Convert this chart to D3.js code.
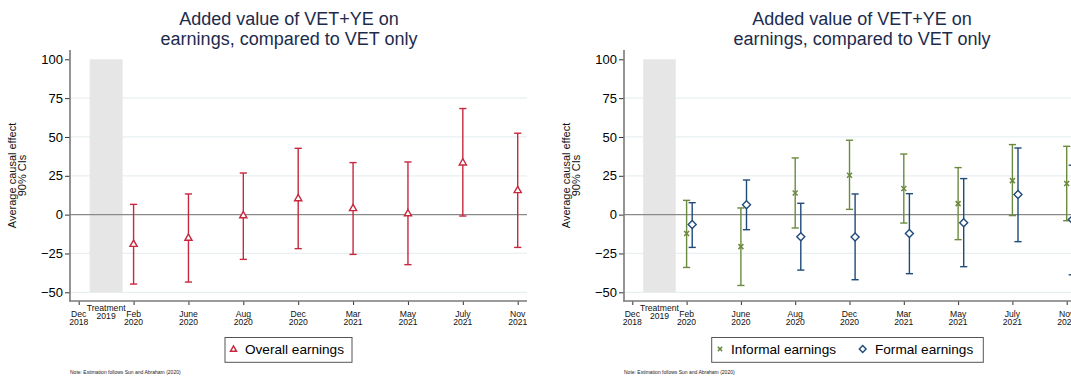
<!DOCTYPE html>
<html><head><meta charset="utf-8">
<script src="https://cdn.jsdelivr.net/npm/d3@7"></script>
<style>body{margin:0;background:#fff;}svg{display:block;font-family:"Liberation Sans",Arial,Helvetica,sans-serif;}</style>
</head><body>
<svg id="c" width="1071" height="379"></svg>
<script>
// ---- data ----
const periods = ["Dec 2018","Feb 2020","June 2020","Aug 2020","Dec 2020","Mar 2021","May 2021","July 2021","Nov 2021"];
const yTicks = [100,75,50,25,0,-25,-50];
const titleLines = ["Added value of VET+YE on","earnings, compared to VET only"];
const yTitle = ["Average causal effect","90% CIs"];
const note = "Note: Estimation follows Sun and Abraham (2020)";
// overall earnings (periods 1..8)
const overallEst = [-18.7,-14.8,-0.3,10.7,4.3,1.0,33.7,15.9];
const overallLo  = [-44.7,-43.4,-28.8,-21.9,-25.6,-32.2,-0.9,-21.1];
const overallHi  = [6.6,13.3,26.8,42.7,33.5,33.9,68.3,52.4];
// informal earnings
const informalEst = [-12.2,-20.6,13.9,25.3,16.8,7.1,21.9,20.0];
const informalLo  = [-34.0,-45.6,-8.6,3.4,-5.4,-16.1,-0.6,-3.9];
const informalHi  = [9.2,4.3,36.5,47.9,39.0,30.3,45.1,44.0];
// formal earnings
const formalEst = [-6.4,6.4,-14.2,-14.4,-12.2,-5.2,12.9,-3.2];
const formalLo  = [-21.1,-9.7,-35.7,-41.9,-38.0,-33.5,-17.4,-38.7];
const formalHi  = [7.7,22.3,7.3,13.3,13.5,23.2,42.9,31.8];

const svg = d3.select("#c");
const RED="#c8283e", GREEN="#6b8a3f", NAVY="#1f4a7a";

function series(name, est, lo, hi, color, shape, offset){
  return {name, color, shape, offset, rows: est.map((e,i)=>({i:i+1, e, lo:lo[i], hi:hi[i]}))};
}

function panel(cfg){
  const g = svg.append("g");
  const y = d3.scaleLinear().domain([-50,100]).range([292.3,59.3]);
  const x = d3.scaleLinear().domain([0,8]).range(cfg.xr);
  const clipId = "clip"+cfg.id;
  svg.append("defs").append("clipPath").attr("id",clipId).append("rect")
    .attr("x",0).attr("y",0).attr("width",1071).attr("height",379);
  // title
  g.append("text").attr("x",cfg.tc).attr("y",25.3).attr("text-anchor","middle")
    .attr("font-size",18).attr("fill","#1c2b4c").text(titleLines[0]);
  g.append("text").attr("x",cfg.tc).attr("y",44.6).attr("text-anchor","middle")
    .attr("font-size",18).attr("fill","#1c2b4c").text(titleLines[1]);
  // grid
  g.selectAll(".grid").data(yTicks.filter(v=>v!==100&&v!==0)).join("line")
    .attr("x1",cfg.ax).attr("x2",cfg.axEnd).attr("y1",d=>y(d)).attr("y2",d=>y(d))
    .attr("stroke","#e9f0f2").attr("stroke-width",1.2);
  // treatment shading
  g.append("rect").attr("x",x(0.2)).attr("width",x(0.8)-x(0.2))
    .attr("y",y(100)).attr("height",y(-50)-y(100)).attr("fill","#e6e6e6");
  // zero line
  g.append("line").attr("x1",cfg.ax).attr("x2",cfg.axEnd).attr("y1",y(0)).attr("y2",y(0))
    .attr("stroke","#8a8a8a").attr("stroke-width",1.2);
  // y axis
  const ya = g.append("g").attr("transform",`translate(${cfg.ax},0)`)
    .call(d3.axisLeft(y).tickValues(yTicks).tickSize(5).tickPadding(2));
  ya.select(".domain").remove();
  ya.selectAll(".tick line").attr("stroke","#333");
  ya.selectAll(".tick text").attr("font-size",13).attr("fill","#000")
    .attr("font-family","Liberation Sans, Arial, sans-serif");
  g.append("line").attr("x1",cfg.ax).attr("x2",cfg.ax).attr("y1",50).attr("y2",301.5)
    .attr("stroke","#7a7a7a").attr("stroke-width",1.6);
  // x axis
  const xa = g.append("g").attr("transform",`translate(0,301)`)
    .call(d3.axisBottom(x).tickValues(d3.range(9)).tickSize(4).tickFormat(""));
  xa.select(".domain").remove();
  xa.selectAll(".tick line").attr("stroke","#333");
  g.append("line").attr("x1",cfg.ax-0.8).attr("x2",cfg.axEnd).attr("y1",301).attr("y2",301)
    .attr("stroke","#7a7a7a").attr("stroke-width",1.6);
  periods.forEach((p,i)=>{
    const [m,yr] = p.split(" ");
    const t = g.append("text").attr("x",x(i)).attr("text-anchor","middle")
      .attr("font-size",8.6).attr("fill","#111");
    t.append("tspan").attr("x",x(i)).attr("y",316.8).text(m);
    t.append("tspan").attr("x",x(i)).attr("y",325).text(yr);
  });
  const tt = g.append("text").attr("text-anchor","middle").attr("font-size",8.6).attr("fill","#111");
  tt.append("tspan").attr("x",x(0.5)).attr("y",310.5).text("Treatment");
  tt.append("tspan").attr("x",x(0.5)).attr("y",318.7).text("2019");
  // y title
  const yt = g.append("text").attr("transform",`translate(${cfg.ytx},175.5) rotate(-90)`)
    .attr("text-anchor","middle").attr("font-size",11).attr("fill","#111");
  yt.append("tspan").attr("x",0).attr("y",0).text(yTitle[0]);
  yt.append("tspan").attr("x",0).attr("y",10.5).text(yTitle[1]);
  // series
  const pg = g.append("g").attr("clip-path",`url(#${clipId})`);
  cfg.series.forEach(s=>{
    const sg = pg.append("g");
    s.rows.forEach(r=>{
      const cx = x(r.i)+s.offset;
      sg.append("line").attr("x1",cx).attr("x2",cx).attr("y1",y(r.lo)).attr("y2",y(r.hi))
        .attr("stroke",s.color).attr("stroke-width",1.4);
      [r.lo,r.hi].forEach(v=>sg.append("line").attr("x1",cx-3.6).attr("x2",cx+3.6)
        .attr("y1",y(v)).attr("y2",y(v)).attr("stroke",s.color).attr("stroke-width",1.4));
      drawMarker(sg, s.shape, cx, y(r.e), s.color);
    });
  });
  // legend
  const L = cfg.legend;
  g.append("rect").attr("x",L.x).attr("y",337.5).attr("width",L.w).attr("height",24.8)
    .attr("fill","#fff").attr("stroke","#555").attr("stroke-width",1);
  L.items.forEach(it=>{
    drawMarker(g, it.s.shape, it.mx, 349, it.s.color, 0.85);
    g.append("text").attr("x",it.tx).attr("y",354.3).attr("font-size",13.6).attr("fill","#000").text(it.s.name);
  });
  g.append("text").attr("x",cfg.ax).attr("y",374).attr("font-size",5).attr("fill","#222").text(note);
}

function drawMarker(sel, shape, cx, cy, color, k=1){
  if(shape==="triangle"){
    const s=3.6*k;
    sel.append("path").attr("d",`M${cx},${cy-s}L${cx+s},${cy+s*0.75}L${cx-s},${cy+s*0.75}Z`)
      .attr("fill","#fff").attr("stroke",color).attr("stroke-width",1.4);
  } else if(shape==="diamond"){
    const s=4*k;
    sel.append("path").attr("d",`M${cx},${cy-s}L${cx+s},${cy}L${cx},${cy+s}L${cx-s},${cy}Z`)
      .attr("fill","#fff").attr("stroke",color).attr("stroke-width",1.4);
  } else {
    const s=2.5*k;
    sel.append("path").attr("d",`M${cx-s},${cy-s}L${cx+s},${cy+s}M${cx+s},${cy-s}L${cx-s},${cy+s}`)
      .attr("stroke",color).attr("stroke-width",1.5);
  }
}

const sOverall = series("Overall earnings", overallEst, overallLo, overallHi, RED, "triangle", 0);
const sInformal = series("Informal earnings", informalEst, informalLo, informalHi, GREEN, "x", 0);
const sFormal = series("Formal earnings", formalEst, formalLo, formalHi, NAVY, "diamond", 5.6);

panel({id:1, xr:[78.7,517.7], ax:70, axEnd:527, tc:289, ytx:15.5, series:[sOverall],
  legend:{x:225,w:127,items:[{s:sOverall,mx:233.5,tx:245}]}});
panel({id:2, xr:[632.3,1066.7], ax:624, axEnd:1075, tc:862, ytx:569.5, series:[sInformal,sFormal],
  legend:{x:711.7,w:271.6,items:[{s:sInformal,mx:720,tx:731},{s:sFormal,mx:862.7,tx:875}]}});
</script>
</body></html>
